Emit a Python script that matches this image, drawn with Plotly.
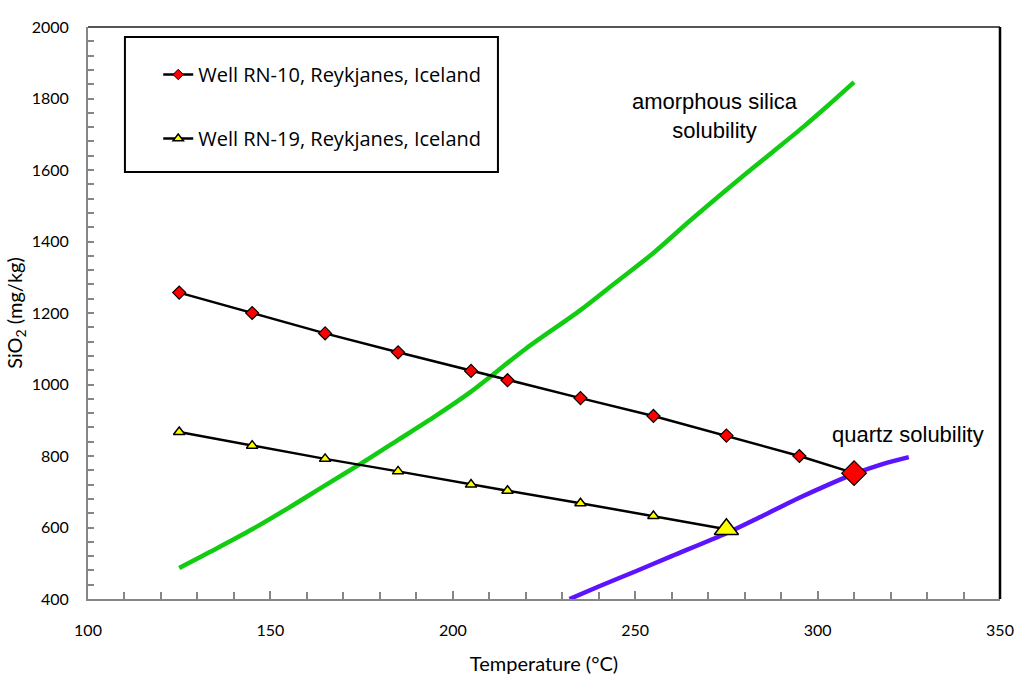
import plotly.graph_objects as go

# Well RN-10 data
rn10_t = [125, 145, 165, 185, 205, 215, 235, 255, 275, 295, 310]
rn10_si = [1257, 1200, 1143, 1090, 1038, 1012, 962, 912, 857, 800, 752]

# Well RN-19 data
rn19_t = [125, 145, 165, 185, 205, 215, 235, 255, 275]
rn19_si = [867, 829, 792, 757, 720, 703, 668, 632, 595]

# Amorphous silica solubility curve
amor_t = [125, 135, 145, 155, 165, 175, 185, 195, 205, 220, 235, 245, 255, 265, 278, 287, 296, 303, 310]
amor_si = [487, 540, 595, 655, 718, 780, 845, 910, 980, 1100, 1208, 1288, 1368, 1458, 1570, 1645, 1720, 1782, 1846]

# Quartz solubility curve
qtz_t = [232, 240, 250, 260, 275, 285, 295, 303, 310, 318, 325]
qtz_si = [400, 435, 477, 520, 584, 633, 683, 720, 750, 778, 797]

FONT = "Lato"
AX_GRAY = "#868686"

fig = go.Figure()

fig.add_trace(go.Scatter(
    x=amor_t, y=amor_si, mode="lines", showlegend=False,
    line=dict(color="#11cc11", width=4.5, shape="spline", smoothing=0.8), hoverinfo="skip"))
fig.add_trace(go.Scatter(
    x=qtz_t, y=qtz_si, mode="lines", showlegend=False,
    line=dict(color="#5c14ff", width=4.5, shape="spline", smoothing=0.8), hoverinfo="skip"))

fig.add_trace(go.Scatter(
    x=rn10_t, y=rn10_si, mode="lines+markers", showlegend=False,
    line=dict(color="black", width=2.5),
    marker=dict(symbol="diamond", color="#ff0000", opacity=1,
                size=[10] * (len(rn10_t) - 1) + [19],
                line=dict(color="black", width=1.2))))
fig.add_trace(go.Scatter(
    x=rn19_t, y=rn19_si, mode="lines+markers", showlegend=False,
    line=dict(color="black", width=2.5),
    marker=dict(symbol="triangle-up", color="#ffff00", opacity=1,
                size=[10] * (len(rn19_t) - 1) + [21],
                line=dict(color="black", width=1.5))))

# legend entries
fig.add_trace(go.Scatter(
    x=[None], y=[None], mode="lines+markers",
    name="Well RN-10, Reykjanes, Iceland", legendgroup="a",
    line=dict(color="black", width=2.5),
    marker=dict(symbol="diamond", color="#ff0000", size=8,
                line=dict(color="black", width=1))))
fig.add_trace(go.Scatter(
    x=[None], y=[None], mode="lines+markers",
    name="Well RN-19, Reykjanes, Iceland", legendgroup="b",
    line=dict(color="black", width=2.5),
    marker=dict(symbol="triangle-up", color="#ffff00", size=9,
                line=dict(color="black", width=1.5))))

fig.update_layout(
    width=1014, height=677,
    margin=dict(l=88, r=14, t=27, b=78),
    paper_bgcolor="white", plot_bgcolor="white",
    font=dict(family=FONT, size=16, color="black"),
    showlegend=True,
    legend=dict(x=0.077, y=0.951, xanchor="left", yanchor="top",
                bgcolor="rgba(0,0,0,0)", borderwidth=0,
                font=dict(family="Open Sans", size=20),
                tracegroupgap=35, itemsizing="trace", itemwidth=30),
    xaxis=dict(range=[100, 350], dtick=50, tick0=100, automargin=False,
               showline=True, linecolor=AX_GRAY, linewidth=2,
               ticks="inside", ticklen=8, tickcolor=AX_GRAY, tickwidth=1.5,
               minor=dict(dtick=10, ticks="inside", ticklen=7, tickcolor=AX_GRAY, tickwidth=1.5),
               showgrid=False, zeroline=False, ticklabelstandoff=16,
               tickfont=dict(family=FONT, size=16),
               title=dict(text="Temperature (°C)", font=dict(family=FONT, size=20), standoff=19)),
    yaxis=dict(range=[400, 2000], dtick=200, tick0=400, automargin=False,
               showline=True, linecolor=AX_GRAY, linewidth=2,
               ticks="inside", ticklen=6, tickcolor=AX_GRAY, tickwidth=1.5,
               minor=dict(dtick=40, ticks="inside", ticklen=6, tickcolor=AX_GRAY, tickwidth=1.5),
               showgrid=False, zeroline=False, ticklabelstandoff=14,
               tickfont=dict(family=FONT, size=16),
               title=dict(text="SiO<sub>2</sub> (mg/kg)", font=dict(family=FONT, size=20), standoff=4)),
)

# plot frame: top gray, right black
fig.add_shape(type="line", xref="paper", yref="paper", x0=0, x1=1, y0=1, y1=1,
              line=dict(color="#555555", width=2))
fig.add_shape(type="line", xref="paper", yref="paper", x0=1, x1=1, y0=0, y1=1,
              line=dict(color="black", width=2.5))
# legend box
fig.add_shape(type="rect", xref="paper", yref="paper",
              x0=0.0405, x1=0.4495, y0=0.7465, y1=0.9825,
              line=dict(color="black", width=2), fillcolor="rgba(0,0,0,0)")

fig.add_annotation(x=272, y=1751, xref="x", yref="y", showarrow=False,
                   text="amorphous silica<br>solubility", align="center",
                   font=dict(family="Liberation Sans", size=22))
fig.add_annotation(x=0.899, y=859, xref="paper", yref="y", showarrow=False,
                   xanchor="center", text="quartz solubility",
                   font=dict(family="Liberation Sans", size=22))

# remove the default 8px page margin so the 1014x677 figure fills the window
fig.write_html("out.html", config={"displayModeBar": False},
               post_script="document.body.style.margin='0';")
